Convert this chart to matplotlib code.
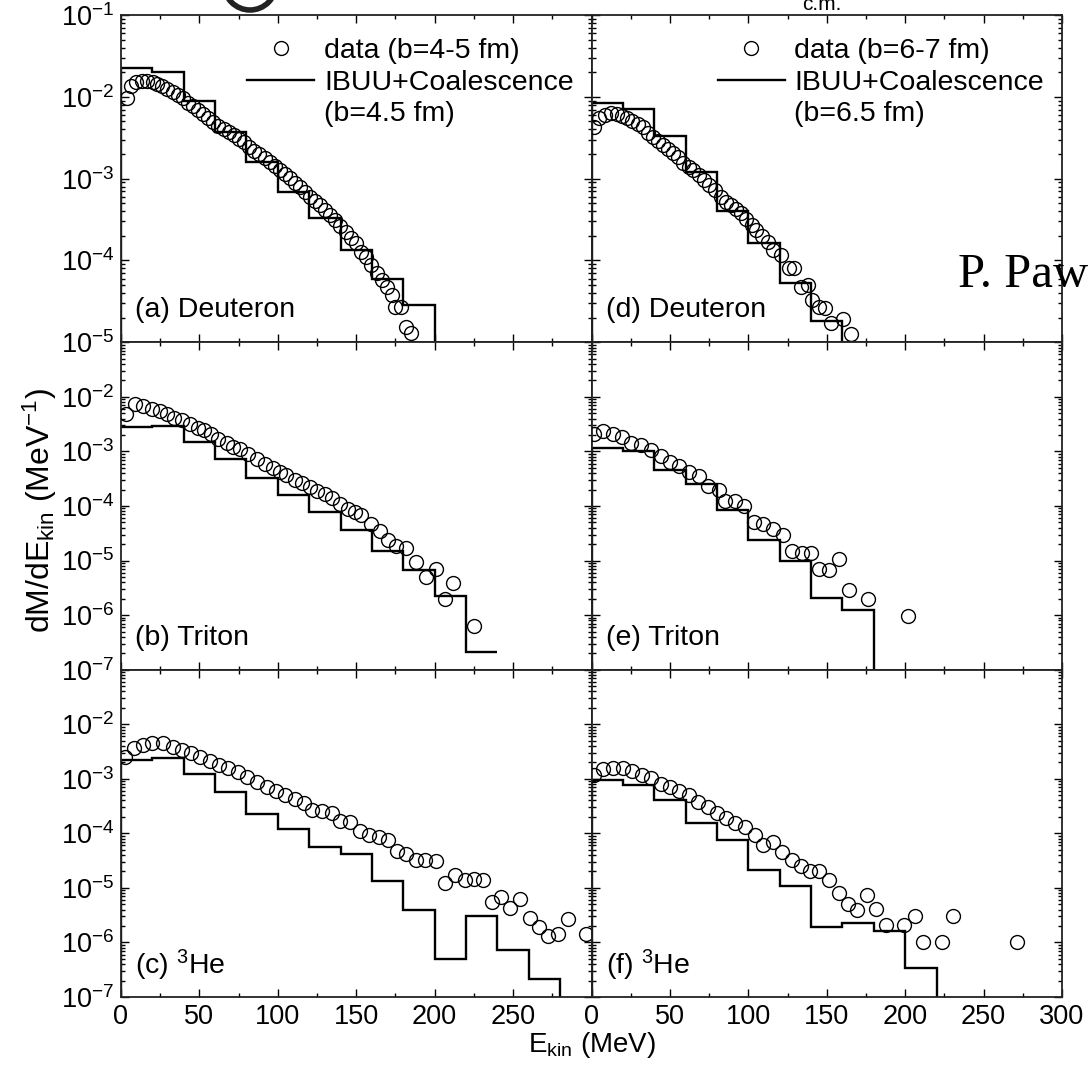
import numpy as np
import matplotlib
matplotlib.use("Agg")
import matplotlib.pyplot as plt
from matplotlib.lines import Line2D
from matplotlib.ticker import MultipleLocator, LogLocator, NullFormatter, FixedLocator, FixedFormatter
from matplotlib.patches import Ellipse

plt.rcParams['font.family'] = ['Liberation Sans', 'DejaVu Sans']
plt.rcParams['mathtext.fontset'] = 'custom'
plt.rcParams['mathtext.rm'] = 'Liberation Sans'
plt.rcParams['mathtext.it'] = 'Liberation Sans:italic'
plt.rcParams['mathtext.bf'] = 'Liberation Sans:bold'

# ---------------- measured spectra (E_kin in MeV, dM/dE in 1/MeV) ----------------
# (a) deuteron, b = 4-5 fm
data_a_E = [3.6, 6.2, 9.6, 13.2, 16.8, 20.2, 23.1, 26.3, 29.5, 32.9, 36.1, 39.3, 42.9, 46.1,
            49.2, 52.4, 55.6, 58.8, 62.0, 65.6, 69.0, 72.0, 75.4, 78.5, 81.7, 84.7, 88.1, 91.7,
            94.9, 98.1, 101.3, 104.5, 107.6, 110.8, 114.0, 117.2, 120.8, 124.0, 127.2, 130.3,
            133.5, 136.7, 139.9, 143.3, 146.9, 150.1, 153.3, 156.5, 159.6, 163.3, 166.4, 169.6,
            173.0, 174.5, 178.8, 181.5, 185.1]
data_a_y = [9.6e-3, 1.34e-2, 1.50e-2, 1.57e-2, 1.58e-2, 1.51e-2, 1.43e-2, 1.34e-2, 1.24e-2,
            1.16e-2, 1.06e-2, 9.6e-3, 8.5e-3, 7.8e-3, 6.9e-3, 6.1e-3, 5.5e-3, 4.9e-3, 4.4e-3,
            4.1e-3, 3.76e-3, 3.43e-3, 3.06e-3, 2.79e-3, 2.47e-3, 2.18e-3, 1.99e-3, 1.78e-3,
            1.61e-3, 1.44e-3, 1.28e-3, 1.14e-3, 1.01e-3, 8.8e-4, 8.0e-4, 6.9e-4, 6.0e-4, 5.4e-4,
            4.8e-4, 4.1e-4, 3.6e-4, 3.1e-4, 2.64e-4, 2.24e-4, 1.86e-4, 1.62e-4, 1.28e-4, 1.11e-4,
            8.8e-5, 7.0e-5, 5.8e-5, 4.8e-5, 3.8e-5, 2.7e-5, 2.7e-5, 1.55e-5, 1.29e-5]
# (d) deuteron, b = 6-7 fm
data_d_E = [1.9, 5.1, 8.9, 12.5, 16.1, 19.5, 22.5, 25.9, 29.5, 32.7, 35.9, 39.1, 42.3, 45.4,
            48.6, 51.8, 55.0, 58.2, 62.0, 65.0, 68.4, 72.0, 75.2, 79.0, 82.6, 85.8, 89.0, 92.1,
            95.3, 98.5, 102.1, 104.9, 108.7, 112.3, 115.5, 120.8, 126.1, 128.9, 133.6, 137.8,
            140.6, 145.2, 149.1, 152.7, 160.5, 165.4]
data_d_y = [4.3e-3, 5.5e-3, 6.0e-3, 6.3e-3, 6.2e-3, 5.8e-3, 5.5e-3, 5.1e-3, 4.6e-3, 4.3e-3,
            3.66e-3, 3.27e-3, 2.92e-3, 2.59e-3, 2.29e-3, 2.05e-3, 1.83e-3, 1.57e-3, 1.40e-3,
            1.28e-3, 1.11e-3, 9.6e-4, 8.4e-4, 7.3e-4, 6.0e-4, 5.2e-4, 4.8e-4, 4.3e-4, 3.8e-4,
            3.2e-4, 2.7e-4, 2.35e-4, 1.99e-4, 1.69e-4, 1.34e-4, 1.16e-4, 8.0e-5, 8.0e-5, 4.8e-5,
            5.0e-5, 3.3e-5, 2.7e-5, 2.6e-5, 1.7e-5, 1.95e-5, 1.28e-5]
# (b) triton, b = 4-5 fm
data_b_E = [3.2, 8.9, 14.2, 19.5, 24.8, 29.1, 33.7, 38.6, 43.9, 49.2, 52.9, 57.1, 62.0, 67.3,
            71.5, 75.8, 81.1, 86.4, 91.7, 97.0, 101.7, 105.5, 110.8, 115.7, 120.4, 125.0, 129.9,
            134.6, 139.5, 144.8, 149.0, 153.3, 159.6, 165.0, 170.3, 175.6, 182.0, 188.3, 194.2,
            201.0, 206.4, 212.0, 224.8]
data_b_y = [4.9e-3, 7.3e-3, 6.7e-3, 6.1e-3, 5.5e-3, 4.8e-3, 4.15e-3, 3.8e-3, 3.2e-3, 2.72e-3,
            2.43e-3, 2.11e-3, 1.71e-3, 1.42e-3, 1.20e-3, 1.09e-3, 8.8e-4, 7.3e-4, 5.9e-4, 5.0e-4,
            4.2e-4, 3.63e-4, 3.06e-4, 2.62e-4, 2.22e-4, 1.87e-4, 1.63e-4, 1.41e-4, 1.10e-4,
            8.9e-5, 7.7e-5, 6.7e-5, 4.7e-5, 3.55e-5, 2.39e-5, 1.81e-5, 1.71e-5, 9.3e-6, 4.9e-6,
            7.0e-6, 2.0e-6, 3.8e-6, 6.4e-7]
# (e) triton, b = 6-7 fm
data_e_E = [1.9, 7.6, 13.6, 19.5, 25.3, 31.6, 38.0, 44.4, 50.1, 56.1, 62.4, 68.4, 74.1, 81.1,
            85.4, 91.7, 97.4, 103.8, 109.6, 115.5, 121.9, 127.8, 134.2, 139.9, 145.2, 151.6,
            158.0, 164.3, 176.0, 202.0]
data_e_y = [2.05e-3, 2.36e-3, 2.05e-3, 1.83e-3, 1.42e-3, 1.29e-3, 1.07e-3, 8.1e-4, 6.4e-4,
            5.3e-4, 4.2e-4, 3.5e-4, 2.28e-4, 1.98e-4, 1.23e-4, 1.23e-4, 1.02e-4, 5.0e-5, 4.7e-5,
            3.8e-5, 3.0e-5, 1.48e-5, 1.36e-5, 1.36e-5, 7.0e-6, 6.7e-6, 1.07e-5, 2.9e-6, 2.0e-6,
            9.5e-7]
# (c) 3He, b = 4-5 fm
data_c_E = [2.5, 8.3, 13.8, 19.5, 26.5, 32.9, 38.6, 44.4, 50.3, 56.7, 62.6, 68.4, 74.3, 80.5,
            86.4, 92.8, 98.7, 104.5, 110.8, 116.6, 122.1, 128.4, 134.6, 139.9, 146.3, 152.2,
            158.2, 164.5, 170.3, 176.0, 182.0, 187.9, 193.6, 201.1, 206.4, 212.7, 219.1, 224.8,
            230.8, 236.7, 242.5, 248.2, 254.6, 260.9, 266.4, 272.2, 278.5, 284.9, 296.2]
data_c_y = [2.48e-3, 3.7e-3, 4.2e-3, 4.5e-3, 4.5e-3, 3.9e-3, 3.4e-3, 2.94e-3, 2.55e-3, 2.15e-3,
            1.82e-3, 1.58e-3, 1.32e-3, 1.07e-3, 8.6e-4, 7.2e-4, 5.9e-4, 5.1e-4, 4.3e-4, 3.56e-4,
            2.69e-4, 2.62e-4, 2.34e-4, 1.67e-4, 1.60e-4, 1.09e-4, 9.5e-5, 8.7e-5, 7.4e-5, 4.8e-5,
            4.1e-5, 3.27e-5, 3.18e-5, 3.08e-5, 1.22e-5, 1.69e-5, 1.37e-5, 1.47e-5, 1.37e-5,
            5.5e-6, 6.9e-6, 4.3e-6, 6.3e-6, 2.83e-6, 1.96e-6, 1.34e-6, 1.40e-6, 2.72e-6, 1.40e-6]
# (f) 3He, b = 6-7 fm
data_f_E = [1.9, 7.6, 14.0, 19.9, 25.9, 32.3, 38.0, 44.0, 50.1, 56.1, 62.0, 67.7, 74.1, 79.8,
            85.8, 91.7, 98.1, 104.5, 109.6, 115.5, 121.4, 127.8, 133.5, 139.3, 145.2, 151.6,
            157.5, 163.3, 169.6, 175.6, 181.3, 187.7, 199.4, 206.4, 211.5, 223.8, 230.2, 271.6]
data_f_y = [1.15e-3, 1.52e-3, 1.58e-3, 1.58e-3, 1.41e-3, 1.19e-3, 1.04e-3, 8.1e-4, 7.2e-4,
            5.9e-4, 5.1e-4, 3.7e-4, 3.0e-4, 2.34e-4, 1.92e-4, 1.53e-4, 1.33e-4, 9.5e-5, 6.0e-5,
            6.9e-5, 4.5e-5, 3.27e-5, 2.47e-5, 2.02e-5, 2.02e-5, 1.41e-5, 8.0e-6, 5.0e-6, 4.0e-6,
            7.3e-6, 4.1e-6, 2.05e-6, 2.05e-6, 3.1e-6, 1.0e-6, 1.0e-6, 3.1e-6, 1.0e-6]

# ---------------- IBUU + coalescence histograms (20 MeV bins) ----------------
ibuu_a_edges = [0, 20, 40, 60, 80, 100, 120, 140, 160, 180, 200]
ibuu_a = [2.24e-2, 2.0e-2, 9.0e-3, 3.76e-3, 1.62e-3, 6.9e-4, 3.33e-4, 1.34e-4, 6.0e-5, 2.85e-5]
ibuu_d_edges = [0, 20, 40, 60, 80, 100, 120, 140, 160]
ibuu_d = [8.5e-3, 7.1e-3, 3.3e-3, 1.22e-3, 4.06e-4, 1.65e-4, 5.25e-5, 1.83e-5]
ibuu_b_edges = [0, 20, 40, 60, 80, 100, 120, 140, 160, 180, 200, 220, 240]
ibuu_b = [2.8e-3, 2.9e-3, 1.52e-3, 7.3e-4, 3.2e-4, 1.56e-4, 7.7e-5, 3.7e-5, 1.52e-5, 6.8e-6,
          2.28e-6, 2.08e-7]
ibuu_e_edges = [0, 20, 40, 60, 80, 100, 120, 140, 160, 180]
ibuu_e = [1.17e-3, 1.01e-3, 4.5e-4, 2.5e-4, 8.5e-5, 2.4e-5, 9.7e-6, 2.07e-6, 1.25e-6]
ibuu_c_edges = [0, 20, 40, 60, 80, 100, 120, 140, 160, 180, 200, 220, 240, 260, 280]
ibuu_c = [2.2e-3, 2.4e-3, 1.23e-3, 5.7e-4, 2.28e-4, 1.21e-4, 5.6e-5, 4.2e-5, 1.33e-5, 3.96e-6,
          5.0e-7, 3.1e-6, 7.3e-7, 2.16e-7]
ibuu_f_edges = [0, 20, 40, 60, 80, 100, 120, 140, 160, 180, 200, 220]
ibuu_f = [9.5e-4, 7.8e-4, 4.0e-4, 1.53e-4, 7.6e-5, 2.14e-5, 1.1e-5, 1.96e-6, 2.26e-6, 1.6e-6,
          3.4e-7]

panel_labels = ['(a) Deuteron', '(d) Deuteron', '(b) Triton', '(e) Triton',
                '(c) $^{3}$He', '(f) $^{3}$He']
legend_data = ['data (b=4-5 fm)', 'data (b=6-7 fm)']
legend_model = ['(b=4.5 fm)', '(b=6.5 fm)']
x_ticks = [0, 50, 100, 150, 200, 250, 300]

panels = [
    (data_a_E, data_a_y, ibuu_a_edges, ibuu_a, True),
    (data_d_E, data_d_y, ibuu_d_edges, ibuu_d, True),
    (data_b_E, data_b_y, ibuu_b_edges, ibuu_b, False),
    (data_e_E, data_e_y, ibuu_e_edges, ibuu_e, True),
    (data_c_E, data_c_y, ibuu_c_edges, ibuu_c, True),
    (data_f_E, data_f_y, ibuu_f_edges, ibuu_f, True),
]

W, H = 1088, 1072
fig = plt.figure(figsize=(W / 100, H / 100), dpi=100)
gs = fig.add_gridspec(3, 2, left=121 / W, right=1062 / W, top=1 - 15 / H, bottom=1 - 997 / H,
                      hspace=0, wspace=0)

TICK_FS = 19.5
TEXT_FS = 20.5
MS = 10.0
LW = 1.7

for i, (dE, dy, edges, vals, drop) in enumerate(panels):
    row, col = divmod(i, 2)
    ax = fig.add_subplot(gs[row, col])
    ax.set_yscale('log')
    ax.set_xlim(0, 300)
    ymin = 1e-5 if row == 0 else 1e-7
    ax.set_ylim(ymin, 1e-1)

    ax.stairs(vals, edges, baseline=ymin if drop else None, color='black', lw=LW, zorder=2)
    ax.plot(dE, dy, 'o', ls='none', mfc='none', mec='black', ms=MS, mew=1.0, zorder=3)

    # ticks
    ax.xaxis.set_major_locator(FixedLocator(x_ticks))
    ax.xaxis.set_minor_locator(MultipleLocator(25))
    ax.yaxis.set_minor_locator(LogLocator(base=10, subs=np.arange(2, 10), numticks=20))
    ax.yaxis.set_minor_formatter(NullFormatter())
    ax.tick_params(which='both', direction='in', top=True, right=True, width=1.0,
                   labelsize=TICK_FS, colors='black', pad=5)
    ax.tick_params(which='major', length=6)
    ax.tick_params(which='minor', length=3)
    for sp in ax.spines.values():
        sp.set_linewidth(1.3)
        sp.set_color('#222222')

    if row == 2:
        shown = x_ticks if col == 1 else x_ticks[:-1]
        ax.xaxis.set_major_formatter(FixedFormatter([str(t) if t in shown else '' for t in x_ticks]))
    else:
        ax.tick_params(labelbottom=False)

    exps = [-5, -4, -3, -2, -1] if row == 0 else [-7, -6, -5, -4, -3, -2, -1]
    ax.yaxis.set_major_locator(FixedLocator([10.0 ** e for e in exps]))
    if col == 0:
        labs = ['$10^{%d}$' % e if not (row > 0 and e == -1) else '' for e in exps]
        ax.yaxis.set_major_formatter(FixedFormatter(labs))
    else:
        ax.tick_params(labelleft=False)

    ax.text(0.03, 0.098, panel_labels[i], transform=ax.transAxes, fontsize=TEXT_FS,
            ha='left', va='center')

    if row == 0:
        handles = [Line2D([], [], ls='none', marker='o', mfc='none', mec='black', ms=MS, mew=1.0),
                   Line2D([], [], color='black', lw=LW),
                   Line2D([], [], ls='none')]
        ax.legend(handles, [legend_data[col], 'IBUU+Coalescence', legend_model[col]],
                  loc='upper left', bbox_to_anchor=(0.268, 0.93), frameon=False,
                  fontsize=TEXT_FS, handlelength=2.35, handletextpad=0.35,
                  labelspacing=0.2, borderaxespad=0, borderpad=0, numpoints=1)

fig.text(40 / W, 1 - 510 / H, r'dM/dE$_{\mathrm{kin}}$ (MeV$^{-1}$)', rotation=90,
         ha='center', va='center', fontsize=23)
fig.text(591.5 / W, 1 - 1045 / H, r'E$_{\mathrm{kin}}$ (MeV)', ha='center', va='center',
         fontsize=20)

# fragments of neighbouring page content
fig.text(822 / W, 1 - 4 / H, 'c.m.', ha='center', va='center', fontsize=15)
fig.text(958 / W, 1 - 275 / H, 'P. Pawłowski', ha='left', va='center', fontsize=35,
         family=['Liberation Serif', 'DejaVu Serif'])
ring = Ellipse((250 / W, 1 + 16 / H), 52 / W, 52 / H, transform=fig.transFigure,
               fill=False, lw=4, ec='#222222')
fig.patches.append(ring)

fig.savefig('out.png', dpi=100)
